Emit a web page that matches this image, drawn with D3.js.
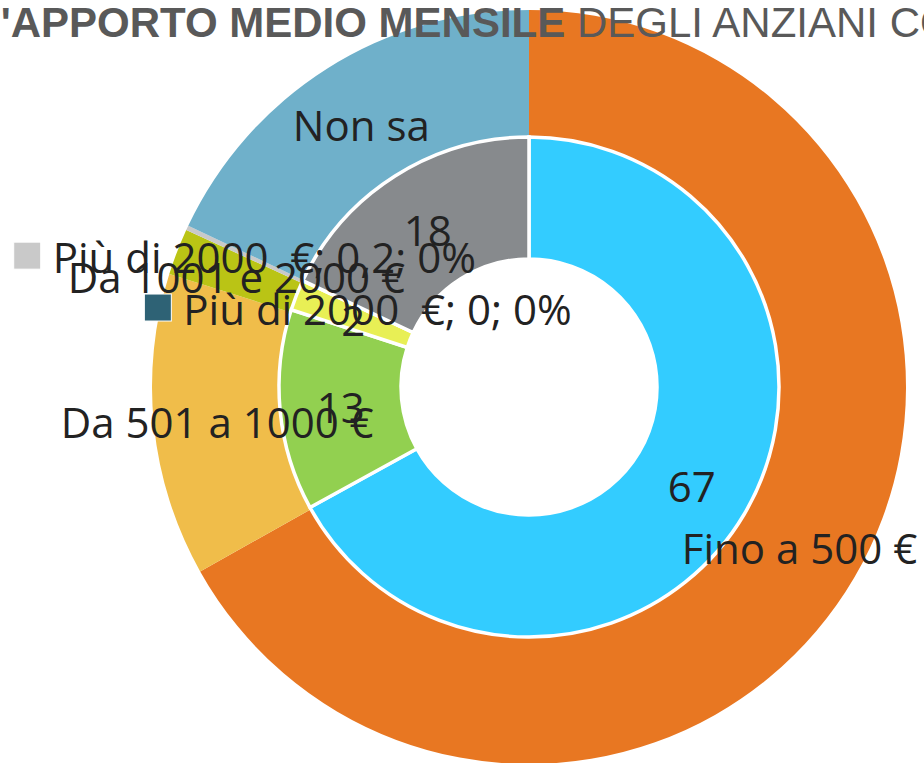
<!DOCTYPE html>
<html>
<head>
<meta charset="utf-8">
<script src="https://cdn.jsdelivr.net/npm/d3@7"></script>
<style>
  html, body { margin: 0; padding: 0; background: #fff; overflow: hidden; }
  text { white-space: pre; }
</style>
</head>
<body>
<div id="chartArea"></div>
<script>
// categories shared by both rings
const categories = ["Fino a 500 €", "Da 501 a 1000 €", "Da 1001 e 2000 €", "Più di 2000  €", "Non sa"];
// outer ring values
const outerValues = [67, 13, 2, 0.2, 18];
// inner ring values
const innerValues = [67, 13, 2, 0, 18];

const outerColors = ["#e87722", "#f0bd4a", "#bac415", "#c9c9c9", "#6fb0ca"];
const innerColors = ["#33ccff", "#92d050", "#e8ef55", "#2e6275", "#878a8d"];

const width = 924, height = 763;
const cx = 529, cy = 387;

let svg = d3.select('#chartArea').append('svg')
   .attr('width', width)
   .attr('height', height);

svg.append('rect').attr('width', width).attr('height', height).attr('fill', '#fff');

let pie = d3.pie().sort(null).value(d => d);

let outerArc = d3.arc().innerRadius(250).outerRadius(377);
let innerArc = d3.arc().innerRadius(128).outerRadius(250);

let g = svg.append('g').attr('transform', `translate(${cx},${cy})`);

let outerData = pie(outerValues);
let innerData = pie(innerValues);

g.selectAll('path.outer').data(outerData)
   .enter().append('path')
   .attr('class', 'outer')
   .attr('d', outerArc)
   .attr('fill', (d, i) => outerColors[i]);

g.selectAll('path.inner').data(innerData)
   .enter().append('path')
   .attr('class', 'inner')
   .attr('d', innerArc)
   .attr('fill', (d, i) => innerColors[i])
   .attr('stroke', '#fff')
   .attr('stroke-width', 3.5);

// title, wider than the chart so it gets clipped on both sides
let title = svg.append('text')
   .attr('x', -25)
   .attr('y', 37)
   .attr('font-family', '"Liberation Sans", Arial, sans-serif')
   .attr('font-size', 42)
   .attr('fill', '#595959');
title.append('tspan').attr('font-weight', 'bold').text("L'APPORTO MEDIO MENSILE");
title.append('tspan').text(" DEGLI ANZIANI CON BADANTE");

let pct = d3.format('.0%');
let num = v => String(v).replace('.', ',');

// label text: tiny slices get "name; value; percent" and a colour key
function labelText(d, i, values, isOuter) {
   let total = d3.sum(values);
   if (d.value < 1) return `${categories[i]}; ${num(d.value)}; ${pct(d.value / total)}`;
   return isOuter ? categories[i] : String(d.value);
}

function drawLabels(data, values, arc, colors, isOuter) {
   data.forEach(function (d, i) {
      let [x, y] = arc.centroid(d);
      let lg = g.append('g').attr('transform', `translate(${x},${y})`);
      let t = lg.append('text')
         .attr('font-family', '"Open Sans", "Noto Sans", sans-serif')
         .attr('font-size', 42)
         .attr('fill', '#222')
         .attr('dy', '0.44em')
         .text(labelText(d, i, values, isOuter));
      let tw = t.node().getComputedTextLength();
      if (d.value < 1) {
         let key = 27, gap = 12;
         let total = key + gap + tw;
         lg.append('rect')
            .attr('x', -total / 2)
            .attr('y', -key / 2 + 1)
            .attr('width', key)
            .attr('height', key)
            .attr('fill', colors[i])
            .attr('stroke', '#fff')
            .attr('stroke-width', 1);
         t.attr('x', -total / 2 + key + gap);
         t.raise();
      } else {
         t.attr('text-anchor', 'middle');
      }
   });
}

drawLabels(outerData, outerValues, outerArc, outerColors, true);
drawLabels(innerData, innerValues, innerArc, innerColors, false);
</script>
</body>
</html>
